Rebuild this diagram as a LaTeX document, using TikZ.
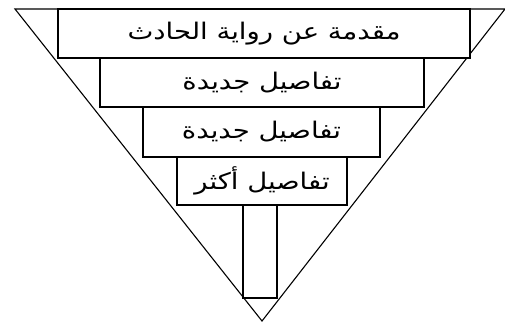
\documentclass[tikz,border=0pt]{standalone}
\usepackage{fontspec}
\newfontfamily\arabicfont[Script=Arabic,FakeStretch=1.2]{DejaVu Sans}
\TeXXeTstate=1
\begin{document}
\begin{tikzpicture}[x=1bp,y=-1bp,
  box/.style={draw=black, line width=1.3bp, fill=white, inner sep=0pt, font=\arabicfont\fontsize{23}{26}\selectfont},
  edge/.style={draw=black, line width=1.1bp}]
\useasboundingbox (0,0) rectangle (505,324);
\coordinate (tl) at (15,9);
\coordinate (tr) at (505,9);
\coordinate (ap) at (262,321);
\draw[edge] (tl) -- (tr) -- (ap) -- cycle;
\node[box, minimum width=412bp, minimum height=49bp] (b1) at (264,33.5) {\beginR مقدمة عن رواية الحادث\endR};
\node[box, minimum width=324bp, minimum height=49bp] (b2) at (262,82.5) {\beginR تفاصيل جديدة\endR};
\node[box, minimum width=237bp, minimum height=50bp] (b3) at (261.5,132) {\beginR تفاصيل جديدة\endR};
\node[box, minimum width=170bp, minimum height=48bp] (b4) at (262,181) {\beginR تفاصيل أكثر\endR};
\node[box, minimum width=34bp, minimum height=93bp] (b5) at (260,251.5) {};
\end{tikzpicture}
\end{document}
